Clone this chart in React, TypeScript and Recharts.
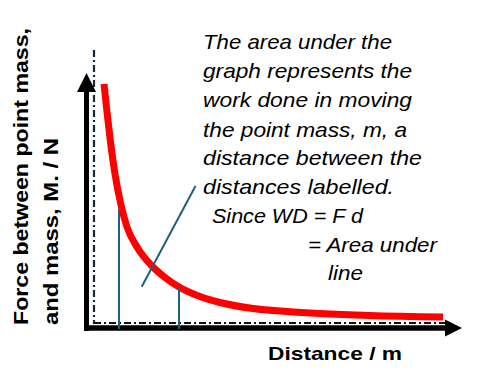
import React from 'react'
import { LineChart, Line, XAxis, YAxis, ReferenceLine } from 'recharts'

// distance / force (arbitrary units, no ticks shown)
const distance = [1.7, 2.0, 2.3, 2.8, 3.4, 4.0, 5.0, 6.5, 7.8, 9.2, 11.3, 13.3, 16.6, 20.0, 23.3, 28.3, 35.6]
const force = [24.4, 21.6, 19.0, 15.4, 12.3, 10.1, 8.1, 6.2, 5.05, 4.1, 3.15, 2.55, 1.95, 1.65, 1.45, 1.25, 1.1]

// the two labelled distances and the force at each
const boundX = [3.2, 9.2]
const boundF = [11.9, 4.1]

// pointer from the note down into the area
const pointerX = [5.47, 10.85]
const pointerF = [4.13, 14.2]

const xLabel = 'Distance / m'
const yLabel = ['Force between point mass,', 'and mass, M. / N']
const noteLines = [
  'The area under the',
  'graph represents the',
  'work done in moving',
  'the point mass, m, a',
  'distance between the',
  'distances labelled.',
  'Since WD = F d',
  '= Area under',
  'line',
]

const data = distance.map((d, i) => ({ x: d, y: force[i] }))

const W = 481
const H = 383
const FONT = '"Liberation Sans", Arial, sans-serif'
const BLUE = '#1f6080'

// x start, x end, baseline of each note line
const noteLayout = [
  [203, 392, 49],
  [203, 412, 78],
  [203, 412, 107],
  [203, 407, 137],
  [203, 422, 165],
  [203, 394, 194],
  [212, 363, 223],
  [308, 437, 252],
  [328, 363, 280],
]

function arrowShape(headLen: number, headHalf: number, width: number) {
  return (p: any) => {
    const x1 = Number(p.x1), y1 = Number(p.y1), x2 = Number(p.x2), y2 = Number(p.y2)
    const dx = x2 - x1
    const dy = y2 - y1
    const len = Math.hypot(dx, dy) || 1
    const ux = dx / len
    const uy = dy / len
    const bx = x2 - ux * headLen
    const by = y2 - uy * headLen
    const nx = -uy
    const ny = ux
    return (
      <g>
        <line x1={x1} y1={y1} x2={bx} y2={by} stroke="#000" strokeWidth={width} />
        <polygon
          points={`${x2},${y2} ${bx + nx * headHalf},${by + ny * headHalf} ${bx - nx * headHalf},${by - ny * headHalf}`}
          fill="#000"
        />
      </g>
    )
  }
}

export default function App() {
  return (
    <div style={{ position: 'absolute', left: 0, top: 0, width: W, height: H, background: '#fff' }}>
      <LineChart
        width={W}
        height={H}
        data={data}
        margin={{ top: 48, right: 14, bottom: 55, left: 87 }}
      >
        <XAxis type="number" dataKey="x" domain={[0, 38]} hide allowDataOverflow />
        <YAxis type="number" domain={[0, 28]} hide allowDataOverflow />

        {/* dash-dot guide lines along the axes */}
        <ReferenceLine
          segment={[{ x: 0.7, y: 27.8 }, { x: 0.7, y: 0.4 }]}
          stroke="#14283c"
          strokeWidth={2.2}
          strokeDasharray="7 3 2 3"
          ifOverflow="visible"
        />
        <ReferenceLine
          segment={[{ x: 0.7, y: 0.5 }, { x: 36.5, y: 0.5 }]}
          stroke="#111"
          strokeWidth={2}
          strokeDasharray="7 3 2 3"
          ifOverflow="visible"
        />

        {/* axes with arrow heads */}
        <ReferenceLine
          segment={[{ x: -0.05, y: -0.3 }, { x: -0.05, y: 25.5 }]}
          shape={arrowShape(19, 9.5, 5)}
          ifOverflow="visible"
        />
        <ReferenceLine
          segment={[{ x: -0.3, y: 0 }, { x: 37.5, y: 0 }]}
          shape={arrowShape(17, 8.5, 5.5)}
          ifOverflow="visible"
        />

        <Line
          type="monotone"
          dataKey="y"
          stroke="#ff0000"
          strokeWidth={7}
          dot={false}
          isAnimationActive={false}
        />

        {boundX.map((bx, i) => (
          <ReferenceLine
            key={bx}
            segment={[{ x: bx, y: -0.1 }, { x: bx, y: boundF[i] }]}
            stroke={BLUE}
            strokeWidth={2}
            ifOverflow="visible"
          />
        ))}
        <ReferenceLine
          segment={[
            { x: pointerX[0], y: pointerF[0] },
            { x: pointerX[1], y: pointerF[1] },
          ]}
          stroke={BLUE}
          strokeWidth={2}
          ifOverflow="visible"
        />

        {/* axis titles */}
        <text
          x={268}
          y={360}
          fontFamily={FONT}
          fontWeight="bold"
          fontSize={19}
          fill="#000"
          textLength={134}
          lengthAdjust="spacingAndGlyphs"
        >
          {xLabel}
        </text>
        {yLabel.map((t, i) => (
          <text
            key={t}
            transform={`translate(${i === 0 ? 28 : 58},325) rotate(-90)`}
            fontFamily={FONT}
            fontWeight="bold"
            fontSize={20}
            fill="#000"
            textLength={i === 0 ? 297 : 187}
            lengthAdjust="spacingAndGlyphs"
          >
            {t}
          </text>
        ))}

        {/* note */}
        {noteLines.map((t, i) => {
          const [x0, x1, y] = noteLayout[i]
          return (
            <text
              key={t}
              x={x0}
              y={y}
              fontFamily={FONT}
              fontStyle="italic"
              fontSize={21}
              fill="#000"
              textLength={x1 - x0}
              lengthAdjust="spacingAndGlyphs"
            >
              {t}
            </text>
          )
        })}
      </LineChart>
    </div>
  )
}
